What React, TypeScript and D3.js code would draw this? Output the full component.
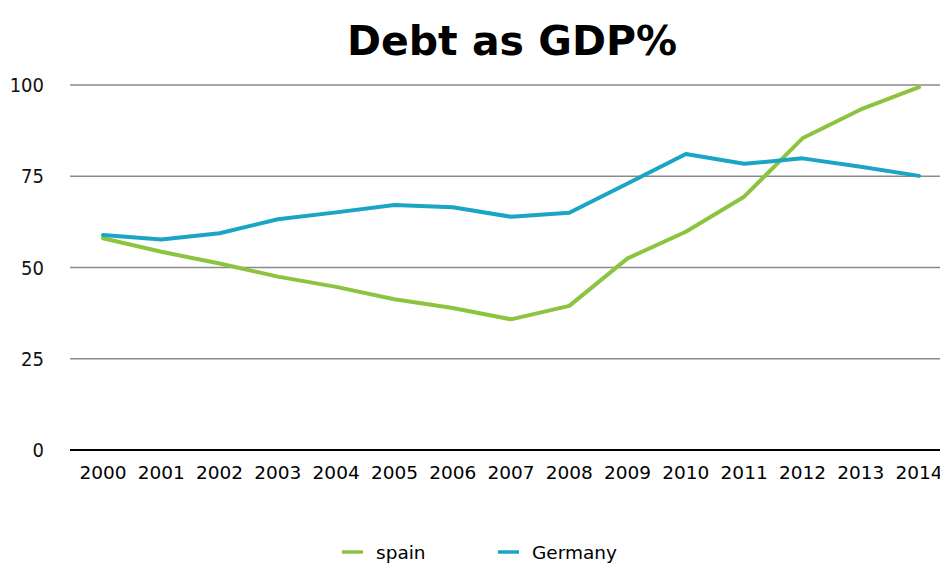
import React from "react";
import * as d3 from "d3";

const years = [2000, 2001, 2002, 2003, 2004, 2005, 2006, 2007, 2008, 2009, 2010, 2011, 2012, 2013, 2014];
const spain = [58.0, 54.3, 51.1, 47.5, 44.7, 41.3, 38.9, 35.8, 39.5, 52.5, 59.8, 69.4, 85.4, 93.3, 99.4];
const germany = [58.9, 57.7, 59.4, 63.2, 65.1, 67.1, 66.5, 63.9, 65.0, 73.0, 81.1, 78.4, 79.9, 77.6, 75.1];
const yTicks = [0, 25, 50, 75, 100];
const seriesNames = ["spain", "Germany"];
const seriesColors = ["#8cc43f", "#1aa5c4"];

export default function App() {
  const W = 940, H = 563;
  const x = d3.scaleLinear().domain([2000, 2014]).range([103, 919]);
  const y = d3.scaleLinear().domain([0, 100]).range([450, 85]);
  const line = d3.line<number>().x((_, i) => x(years[i])).y((d) => y(d));
  const series = [spain, germany];
  const legendX = [342, 498];

  return (
    <svg width={W} height={H} style={{ position: "absolute", left: 0, top: 0, background: "#fff" }}>
      <text x={512} y={55} textAnchor="middle" fontFamily="DejaVu Sans" fontWeight="bold" fontSize={41} fill="#000">
        Debt as GDP%
      </text>
      {yTicks.filter((t) => t > 0).map((t) => (
        <line key={t} x1={70} x2={940} y1={y(t)} y2={y(t)} stroke="#8a8a8a" strokeWidth={1.5} />
      ))}
      <line x1={70} x2={940} y1={y(0)} y2={y(0)} stroke="#000" strokeWidth={2} />
      {yTicks.map((t) => (
        <text key={t} x={44} y={y(t)} dy="0.36em" textAnchor="end" fontFamily="DejaVu Sans Condensed, DejaVu Sans" fontSize={20} fill="#111">
          {t}
        </text>
      ))}
      {years.map((yr) => (
        <text key={yr} x={x(yr)} y={479} textAnchor="middle" fontFamily="DejaVu Sans" fontSize={18.5} fill="#000">
          {yr}
        </text>
      ))}
      {series.map((s, i) => (
        <path key={i} d={line(s) || ""} fill="none" stroke={seriesColors[i]} strokeWidth={4} strokeLinejoin="round" strokeLinecap="round" />
      ))}
      {seriesNames.map((n, i) => (
        <g key={n}>
          <line x1={legendX[i]} x2={legendX[i] + 21} y1={552} y2={552} stroke={seriesColors[i]} strokeWidth={3.5} />
          <text x={legendX[i] + 34} y={559} fontFamily="DejaVu Sans" fontSize={18.5} fill="#000">
            {n}
          </text>
        </g>
      ))}
    </svg>
  );
}
